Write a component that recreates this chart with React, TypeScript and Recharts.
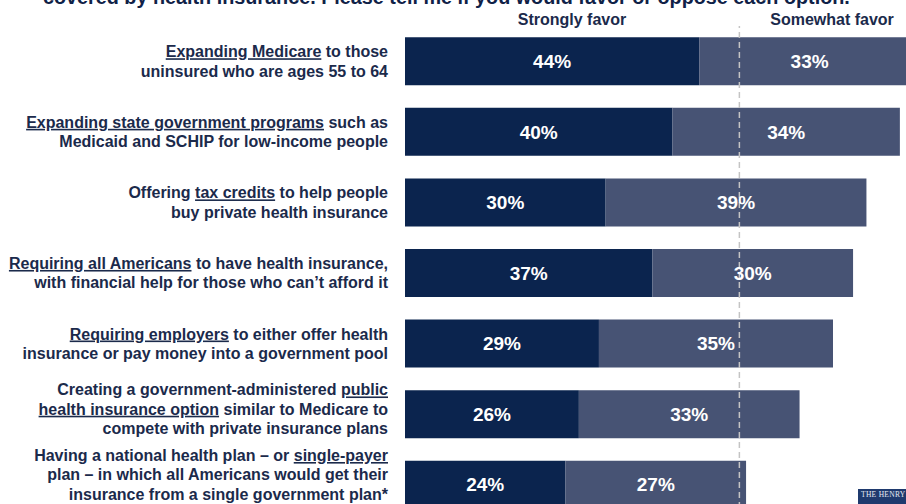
import React from "react"
import {
  BarChart,
  Bar,
  XAxis,
  YAxis,
  LabelList,
  ReferenceLine,
} from "recharts"

// survey items, top to bottom
const categories = [
  "Expanding Medicare to those uninsured who are ages 55 to 64",
  "Expanding state government programs such as Medicaid and SCHIP for low-income people",
  "Offering tax credits to help people buy private health insurance",
  "Requiring all Americans to have health insurance, with financial help for those who can’t afford it",
  "Requiring employers to either offer health insurance or pay money into a government pool",
  "Creating a government-administered public health insurance option similar to Medicare to compete with private insurance plans",
  "Having a national health plan – or single-payer plan – in which all Americans would get their insurance from a single government plan*",
]

const stronglyFavor = [44, 40, 30, 37, 29, 26, 24]
const somewhatFavor = [33, 34, 39, 30, 35, 33, 27]
const seriesNames = ["Strongly favor", "Somewhat favor"]

const title =
  "covered by health insurance. Please tell me if you would favor or oppose each option."

// label lines, each a list of [text, underlined]
type Seg = [string, boolean?]
const labelLines: Seg[][][] = [
  [[["Expanding Medicare", true], [" to those"]], [["uninsured who are ages 55 to 64"]]],
  [
    [["Expanding state government programs", true], [" such as"]],
    [["Medicaid and SCHIP for low-income people"]],
  ],
  [
    [["Offering "], ["tax credits", true], [" to help people"]],
    [["buy private health insurance"]],
  ],
  [
    [["Requiring all Americans", true], [" to have health insurance,"]],
    [["with financial help for those who can’t afford it"]],
  ],
  [
    [["Requiring employers", true], [" to either offer health"]],
    [["insurance or pay money into a government pool"]],
  ],
  [
    [["Creating a government-administered "], ["public", true]],
    [["health insurance option", true], [" similar to Medicare to"]],
    [["compete with private insurance plans"]],
  ],
  [
    [["Having a national health plan – or "], ["single-payer", true]],
    [["plan – in which all Americans would get their"]],
    [["insurance from a single government plan*"]],
  ],
]

const data = categories.map((name, i) => ({
  name,
  strongly: stronglyFavor[i],
  somewhat: somewhatFavor[i],
}))

const FONT = "'Liberation Sans', Arial, sans-serif"
const DARK = "#0b244e"
const LIGHT = "#475374"
const TEXT = "#1b2a4b"

function CategoryTick(props: any) {
  const { x, y, payload } = props
  const idx = categories.indexOf(payload.value)
  const lines = labelLines[idx] || [[[payload.value]]]
  const n = lines.length
  // three-line labels sit a little high, the last one more so
  const shift = n > 2 ? (idx === categories.length - 1 ? -10 : -5) : 0
  return (
    <g>
      {lines.map((line, i) => (
        <text
          key={i}
          x={x}
          y={y + (i - (n - 1) / 2) * 19.3 + shift}
          dy="0.35em"
          textAnchor="end"
          fill={TEXT}
          fontSize={16}
          fontWeight="bold"
          fontFamily={FONT}
          style={{ whiteSpace: "pre" }}
        >
          {line.map(([t, u], j) => (
            <tspan key={j} style={u ? { textDecoration: "underline" } : undefined}>
              {t}
            </tspan>
          ))}
        </text>
      ))}
    </g>
  )
}

const pct = (v: any) => `${v}%`

export default function App() {
  return (
    <div
      style={{
        position: "fixed",
        left: 0,
        top: 0,
        width: 906,
        height: 504,
        overflow: "hidden",
        background: "#fff",
        fontFamily: FONT,
      }}
    >
      <div
        style={{
          position: "absolute",
          left: 43,
          top: -12,
          fontSize: 19.8,
          lineHeight: "19.8px",
          fontWeight: "bold",
          color: "#0f2147",
          whiteSpace: "nowrap",
        }}
      >
        {title}
      </div>
      {seriesNames.map((s, i) => (
        <div
          key={s}
          style={{
            position: "absolute",
            left: i === 0 ? 472 : 732,
            width: 200,
            top: 11.5,
            textAlign: "center",
            fontSize: 16,
            lineHeight: "16px",
            fontWeight: "bold",
            color: TEXT,
          }}
        >
          {s}
        </div>
      ))}
      <div style={{ position: "absolute", left: 0, top: 0 }}>
        <BarChart
          width={950}
          height={530}
          data={data}
          layout="vertical"
          barCategoryGap="16%"
          margin={{ top: 26, right: 10, bottom: 10, left: 0 }}
        >
          <XAxis type="number" domain={[0, 80]} hide />
          <YAxis
            type="category"
            dataKey="name"
            width={405}
            axisLine={false}
            tickLine={false}
            tickSize={0}
            tickMargin={17}
            interval={0}
            tick={<CategoryTick />}
          />
          <Bar dataKey="strongly" stackId="a" fill={DARK} isAnimationActive={false}>
            <LabelList
              dataKey="strongly"
              position="center"
              formatter={pct}
              fill="#fff"
              fontSize={19}
              fontWeight="bold"
              fontFamily={FONT}
            />
          </Bar>
          <Bar dataKey="somewhat" stackId="a" fill={LIGHT} isAnimationActive={false}>
            <LabelList
              dataKey="somewhat"
              position="center"
              formatter={pct}
              fill="#fff"
              fontSize={19}
              fontWeight="bold"
              fontFamily={FONT}
            />
          </Bar>
          <ReferenceLine
            x={50}
            stroke="#c4c4c4"
            strokeWidth={1.5}
            strokeDasharray="6 4"
            shape={(p: any) => (
              <line
                x1={p.x1}
                x2={p.x2}
                y1={p.y1 - 12}
                y2={p.y2}
                stroke="#c4c4c4"
                strokeWidth={1.5}
                strokeDasharray="6 4"
              />
            )}
          />
        </BarChart>
      </div>
      <div
        style={{
          position: "absolute",
          left: 858,
          top: 489,
          width: 50,
          height: 20,
          background: "#1f3a6e",
          color: "#e8ecf4",
          fontFamily: "'Liberation Serif', serif",
          fontSize: 7.5,
          lineHeight: "12px",
          paddingLeft: 3,
          letterSpacing: 0.3,
          boxSizing: "border-box",
        }}
      >
        THE HENRY
      </div>
    </div>
  )
}
